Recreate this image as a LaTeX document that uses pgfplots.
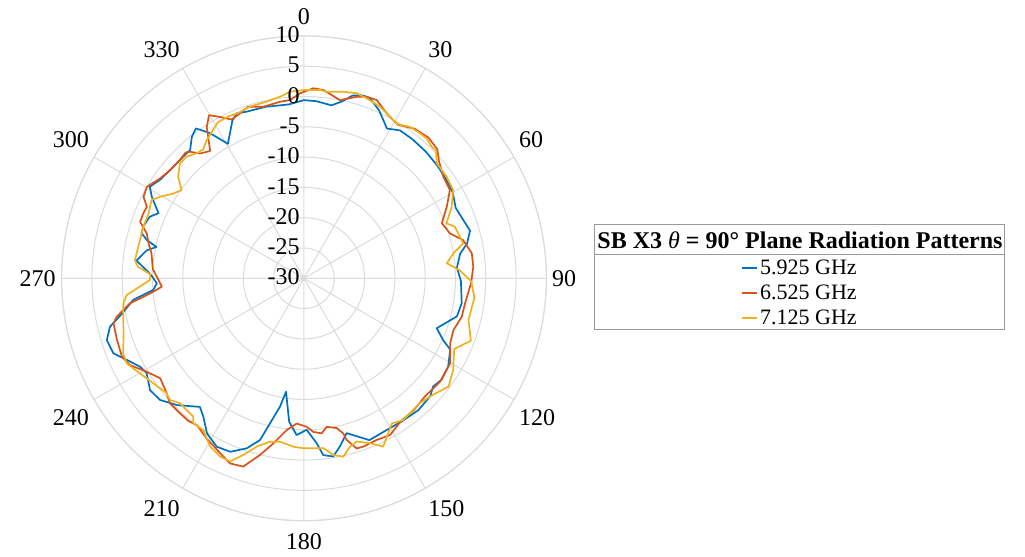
\documentclass[border=0pt]{standalone}
\usepackage{fontspec}
\setmainfont{Liberation Serif}
\usepackage{pgfplots}
\usepackage{pgfplotstable}
\usepgfplotslibrary{polar}
\pgfplotsset{compat=1.18}

\definecolor{mblue}{rgb}{0,0.447,0.741}
\definecolor{morange}{rgb}{0.85,0.325,0.098}
\definecolor{myellow}{rgb}{0.929,0.694,0.125}
\definecolor{gridgray}{gray}{0.86}
\definecolor{boxgray}{gray}{0.6}

% columns: a = azimuth (deg, clockwise from top), g = gain (dB)
\pgfplotstableread{
a g
0 -0.6
4 -0.7
9 -1.1
12 -0.2
15 1.25
18 1.7
20 1.65
24 0.4
29 -1.75
33 -0.9
38 -0.9
44 -1.0
50 -1.2
55 -1.4
60 -1.65
65 -2.4
70 -2.0
74 -1.5
78 -2.5
81 -3.9
86 -4.7
91 -4.1
99 -3.65
104 -4.0
110.6 -6.6
114 -4.85
116 -3.15
121.5 -2.1
126.5 -1.8
130 -2.2
133 -1.5
139 -1.2
145.5 -1.4
150 -1.5
158 -1.2
164.6 -3.5
168 -1.6
170.7 -0.2
173.8 -0.66
175.6 -2.7
179 -5.0
182.7 -4.1
185.9 -6.2
189 -11.05
190.6 -8.45
193.2 -5.4
195.2 -2.35
198.6 -0.4
203 1.1
207.4 1.3
212 0.2
216 -1.75
219 -2.7
225 -0.4
229.8 1.1
234 1.4
239 0.3
241.7 0.75
245.3 2.2
248.5 3.8
252.6 4.1
256 3.0
259 0.6
262.8 -1.6
265.6 -5.05
268 -5.7
270.5 -5.0
272.5 -4.2
276 -2.2
280 -3.6
282 -5.1
283.7 -3.3
285.5 -2.2
287.8 -2.1
291.8 -2.6
294.1 -3.7
298.2 -1.5
300.7 -0.4
304.3 -1.2
309 -1.6
312 -1.7
315.2 -1.7
318.4 -1.7
321.6 -0.2
324.2 0.5
327 -1.4
330.5 -4.5
335.6 -1.4
337.8 -0.6
340.7 -0.9
347.4 -1.0
355 -1.2
360 -0.6
}\bluedata

\pgfplotstableread{
a g
2.8 1.4
5.9 1.24
11.4 0.0
16.2 1.2
19 1.7
22.2 1.77
26.6 0.46
31.5 -0.3
36.5 0.7
41.5 1.0
46 0.6
49 -0.5
53.9 -1.55
58.8 -1.85
63.4 -3.65
68.2 -5.5
72.9 -4.8
76.5 -3.0
81.5 -2.0
86.1 -2.0
91.5 -2.4
98.8 -3.1
103.7 -3.2
109.1 -3.9
114 -3.6
120.2 -2.1
127.2 -1.8
134.4 -2.1
140 -1.7
146 -1.5
151.2 -0.5
155.8 -0.75
160.6 -0.55
162.8 -0.6
165.2 -2.4
165.8 -3.6
167.7 -4.7
171.3 -5.2
173.5 -4.25
176.5 -4.6
179 -5.5
182.9 -6.0
186.5 -4.8
190.5 -2.3
194 0.05
197.9 2.65
201.8 2.9
205.6 2.0
211 1.0
216 0.0
219 0.3
222.6 0.25
227 0.25
230.1 -0.45
235.2 -1.1
239.3 0.2
243.5 2.1
246.7 2.7
251.8 2.5
256.7 2.3
258.4 1.55
261.8 -1.0
264.4 -4.5
266.6 -6.5
269.3 -6.0
273.5 -5.0
279.3 -4.5
282.7 -3.7
286 -3.0
289 -1.4
292 -1.4
294.5 -1.5
296.9 -0.3
300.2 0.0
304.8 -1.1
309 -1.6
313.7 -1.7
316.8 -1.5
318 -1.9
320.2 -3.2
323.6 -3.9
327.3 -0.3
329.8 1.15
332.5 0.0
335.5 -1.2
338.8 -0.8
342 -0.23
346.7 -0.9
352.3 -0.6
355.5 -0.5
358.8 0.53
362.8 1.4
}\orangedata

\pgfplotstableread{
a g
0 1.07
4.9 1.2
6.9 1.0
11.9 1.47
15.9 1.75
19.2 1.45
23.9 0.97
29.4 0.0
31 -0.3
35 0.5
38.7 0.64
41.2 0.7
44.1 0.26
46 0.3
49 -1.0
54.5 -1.1
59.4 -1.4
64.1 -2.9
68.9 -4.8
71.1 -3.7
77.6 -3.1
80.5 -5.0
84 -6.3
87 -4.3
91 -2.4
96.5 -1.7
104.2 -2.0
110.5 -0.6
115.2 -2.6
121.6 -1.1
126.8 -0.2
132 -1.3
137.1 -1.9
141.9 -1.7
145 -1.45
148.8 -2.0
154.8 0.7
158.2 -0.7
162.1 -1.7
164.7 -1.2
167.6 0.15
170.6 -0.45
173.5 -1.8
176.9 -1.9
180.2 -1.95
183.6 -2.15
188.4 -2.75
191.8 -2.45
195.7 -1.15
198.9 0.8
202 2.6
205.2 2.5
209.2 1.8
213.6 0.05
217.4 0.1
218.7 -0.75
224.8 -0.95
227.8 -0.13
230.1 -0.45
235.1 0.3
239.9 1.3
244.4 2.45
247.5 2.3
252.1 1.3
257 0.6
262.1 0.1
264.6 -0.6
269.4 -4.6
271.5 -4.6
274 -2.5
276.2 -1.95
283.1 -2.2
287.8 -2.15
292.7 -2.2
297.2 -1.7
299.5 -2.7
303 -4.3
305.8 -5.1
308.9 -3.3
312.8 -2.1
316 -2.1
319.4 -2.8
322 -3.0
324.5 -2.2
328 -1.4
331 -0.6
335 -0.5
338 -0.65
342.5 -0.3
348.1 -0.2
352.5 0.23
355.7 0.88
360 1.07
}\yellowdata

\begin{document}
\begin{tikzpicture}[
  tl/.style={font=\fontsize{12}{14}\selectfont, inner sep=0pt, text height=9.6pt, text depth=3pt},
  ta/.style={tl, text height=11.6pt},
]
\begin{polaraxis}[
  at={(0pt,0pt)}, anchor=origin,
  scale only axis, width=242.4pt, height=242.4pt,
  xmin=0, xmax=360, ymin=0, ymax=40,
  xtick={0,30,...,330}, xticklabels={},
  ytick={0,5,...,40}, yticklabels={},
  grid=major,
  major grid style={draw=gridgray, line width=0.5pt},
  axis line style={draw=gridgray, line width=0.5pt},
  major tick length=0pt,
  clip=false,
  legend style={draw=none, fill=none, at={(axis cs:-1.757,81.89)}, anchor=center,
    font=\fontsize{11}{13}\selectfont, row sep=-0.2pt,
    nodes={inner xsep=1pt}},
  legend cell align=left,
  legend image code/.code={\draw[#1, line width=1pt] (0pt,0.25pt) -- (7.5pt,0.25pt);},
  every axis plot/.append style={line width=0.85pt, line join=round},
]
% curves: polar angle = 90 - azimuth, radius = gain + 30 dB
\addplot[mblue, no markers] table[x expr={90-\thisrow{a}}, y expr={\thisrow{g}+30}] {\bluedata};
\addlegendentry{5.925 GHz}
\addplot[morange, no markers] table[x expr={90-\thisrow{a}}, y expr={\thisrow{g}+30}] {\orangedata};
\addlegendentry{6.525 GHz}
\addplot[myellow, no markers] table[x expr={90-\thisrow{a}}, y expr={\thisrow{g}+30}] {\yellowdata};
\addlegendentry{7.125 GHz}

% azimuth labels
\node[tl, anchor=south]      at (axis cs:90,40.9)  {0};
\node[tl, anchor=south west] at (axis cs:60,40.9)  {30};
\node[tl, anchor=south west] at (axis cs:30,40.9)  {60};
\node[ta, anchor=west]       at (axis cs:0,40.9)   {90};
\node[ta, anchor=north west] at (axis cs:-30,40.9) {120};
\node[ta, anchor=north west] at (axis cs:-60,40.9) {150};
\node[ta, anchor=north]      at (axis cs:-90,40.9) {180};
\node[ta, anchor=north east] at (axis cs:-120,40.9) {210};
\node[ta, anchor=north east] at (axis cs:-150,40.9) {240};
\node[ta, anchor=east]       at (axis cs:180,40.9) {270};
\node[tl, anchor=south east] at (axis cs:150,40.9) {300};
\node[tl, anchor=south east] at (axis cs:120,40.9) {330};

% gain labels along the 0 degree spoke
\node[tl, anchor=east, xshift=-2pt] at (axis cs:90,0)  {-30};
\node[tl, anchor=east, xshift=-2pt] at (axis cs:90,5)  {-25};
\node[tl, anchor=east, xshift=-2pt] at (axis cs:90,10) {-20};
\node[tl, anchor=east, xshift=-2pt] at (axis cs:90,15) {-15};
\node[tl, anchor=east, xshift=-2pt] at (axis cs:90,20) {-10};
\node[tl, anchor=east, xshift=-2pt] at (axis cs:90,25) {-5};
\node[tl, anchor=east, xshift=-2pt] at (axis cs:90,30) {0};
\node[tl, anchor=east, xshift=-2pt] at (axis cs:90,35) {5};
\node[tl, anchor=east, xshift=-2pt] at (axis cs:90,40) {10};
\end{polaraxis}

% legend frame with title row
\draw[boxgray, line width=0.5pt] (145.5pt,26.65pt) rectangle (350.5pt,-25.85pt);
\draw[boxgray, line width=0.5pt] (145.5pt,11.65pt) -- (350.5pt,11.65pt);
\node[font=\fontsize{12}{14}\selectfont\bfseries, inner sep=0pt] at (248pt,19.15pt)
  {SB X3 {\mdseries\itshape θ} = 90° Plane Radiation Patterns};

\pgfresetboundingbox
\useasboundingbox (-152pt,-139.35pt) rectangle (360.5pt,139.15pt);
\end{tikzpicture}
\end{document}
